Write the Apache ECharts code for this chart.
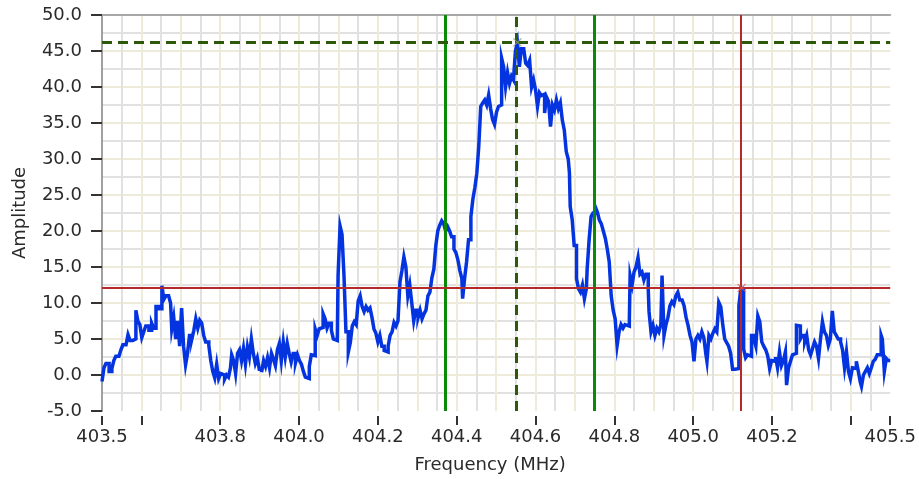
<!DOCTYPE html>
<html>
<head>
<meta charset="utf-8">
<script src="https://cdn.jsdelivr.net/npm/echarts@6/dist/echarts.min.js"></script>
<style>
html,body{margin:0;padding:0;background:#fff;}
#chart{width:919px;height:479px;}
</style>
</head>
<body>
<div id="chart"></div>
<script>
// Frequency samples (MHz)
const freqMHz = [
403.500,403.505,403.510,403.518,403.525,403.530,403.535,403.543,403.548,403.553,
403.561,403.566,403.571,403.578,403.586,403.591,403.596,403.601,403.606,403.611,
403.619,403.626,403.631,403.637,403.644,403.652,403.657,403.662,403.669,403.674,
403.677,403.682,403.687,403.692,403.697,403.702,403.707,403.712,403.717,403.722,
403.728,403.733,403.738,403.743,403.748,403.753,403.758,403.763,403.771,403.776,
403.781,403.786,403.791,403.796,403.801,403.806,403.811,403.816,403.821,403.826,
403.829,403.834,403.839,403.844,403.849,403.854,403.859,403.864,403.869,403.874,
403.879,403.884,403.889,403.894,403.899,403.905,403.910,403.915,403.920,403.925,
403.930,403.935,403.940,403.945,403.950,403.955,403.960,403.965,403.970,403.975,
403.980,403.985,403.991,403.996,404.001,404.006,404.011,404.016,404.021,404.026,
404.031,404.036,404.041,404.046,404.051,404.056,404.061,404.066,404.071,404.076,
404.082,404.087,404.092,404.097,404.099,404.104,404.109,404.114,404.119,404.125,
404.130,404.135,404.140,404.145,404.150,404.155,404.160,404.165,404.170,404.175,
404.180,404.185,404.190,404.195,404.200,404.205,404.210,404.216,404.221,404.226,
404.231,404.236,404.241,404.246,404.251,404.256,404.261,404.266,404.271,404.276,
404.281,404.286,404.291,404.296,404.302,404.307,404.312,404.317,404.322,404.327,
404.332,404.337,404.342,404.347,404.352,404.357,404.362,404.367,404.372,404.377,
404.382,404.387,404.393,404.398,404.403,404.408,404.413,404.415,404.420,404.425,
404.430,404.436,404.441,404.446,404.451,404.456,404.461,404.466,404.471,404.476,
404.481,404.486,404.491,404.496,404.501,404.506,404.511,404.514,404.519,404.524,
404.529,404.534,404.539,404.544,404.549,404.554,404.559,404.564,404.570,404.575,
404.580,404.585,404.590,404.595,404.600,404.605,404.610,404.615,404.620,404.623,
404.628,404.633,404.638,404.643,404.648,404.653,404.658,404.663,404.668,404.673,
404.678,404.683,404.686,404.688,404.693,404.698,404.704,404.709,404.714,404.719,
404.724,404.729,404.731,404.736,404.741,404.746,404.752,404.757,404.762,404.767,
404.772,404.777,404.782,404.787,404.792,404.797,404.802,404.807,404.812,404.817,
404.822,404.827,404.832,404.838,404.840,404.845,404.850,404.855,404.860,404.865,
404.870,404.875,404.880,404.886,404.888,404.893,404.898,404.903,404.908,404.913,
404.918,404.921,404.926,404.931,404.936,404.941,404.946,404.951,404.956,404.961,
404.966,404.972,404.977,404.982,404.987,404.992,404.997,405.002,405.007,405.012,
405.017,405.022,405.027,405.032,405.035,405.040,405.045,405.050,405.055,405.060,
405.065,405.070,405.075,405.080,405.085,405.090,405.095,405.100,405.106,405.111,
405.116,405.121,405.123,405.128,405.133,405.138,405.143,405.148,405.154,405.159,
405.164,405.169,405.174,405.179,405.184,405.189,405.194,405.199,405.204,405.209,
405.214,405.219,405.224,405.229,405.234,405.237,405.242,405.247,405.252,405.257,
405.262,405.267,405.272,405.277,405.283,405.288,405.293,405.298,405.303,405.308,
405.313,405.318,405.323,405.328,405.333,405.338,405.343,405.348,405.353,405.358,
405.363,405.368,405.374,405.379,405.384,405.389,405.394,405.399,405.404,405.409,
405.414,405.419,405.424,405.427,405.432,405.437,405.442,405.447,405.452,405.457,
405.462,405.467,405.472,405.477,405.480,405.485,405.490,405.495,405.500
];

// Amplitude at each frequency sample
const amplitude = [
-0.9,1.0,1.6,0.5,0.9,2.0,2.6,2.4,3.5,4.2,
4.0,5.6,4.8,5.0,9.0,7.5,7.0,5.2,6.0,6.8,
6.2,7.2,6.5,9.5,9.2,12.4,10.5,11.0,11.2,10.0,
6.4,8.0,5.0,7.5,4.0,9.3,4.0,1.4,3.0,5.5,
5.0,6.2,7.8,6.5,7.6,7.2,5.5,4.6,4.1,2.0,
0.5,-0.4,1.5,-0.5,0.2,0.0,-0.6,0.0,-0.3,1.0,
2.8,2.0,0.2,3.0,3.5,2.0,3.7,1.5,3.9,2.5,
5.0,3.0,1.6,2.4,0.8,0.4,2.0,1.2,2.4,1.0,
3.0,2.2,1.3,3.5,4.4,2.0,4.6,2.5,4.4,3.0,
1.8,3.0,1.7,2.8,2.0,1.5,0.5,-0.3,-0.5,1.2,
2.8,2.7,6.4,5.5,6.4,6.6,8.5,7.8,6.5,7.2,
6.2,5.0,4.8,5.0,13.8,20.7,19.5,13.8,6.0,3.2,
4.5,6.8,7.4,7.0,10.3,11.0,9.5,8.8,9.5,9.0,
9.3,8.0,6.4,5.8,4.6,5.5,4.0,3.4,3.2,4.0,
5.5,6.0,7.3,6.8,7.5,12.9,14.5,16.4,15.0,11.0,
12.5,10.0,7.5,9.0,8.0,9.0,7.8,8.5,9.0,11.0,
11.5,13.5,14.7,18.0,20.0,20.8,21.4,21.0,20.0,20.6,
20.0,19.2,17.5,17.0,16.0,14.5,13.4,10.6,13.4,15.7,
18.8,22.0,24.4,26.0,28.0,31.8,37.3,37.8,38.2,37.5,
38.9,37.0,35.5,34.8,36.5,37.3,37.5,44.0,42.8,40.0,
42.0,40.5,41.5,41.0,45.0,46.2,42.8,45.3,45.1,43.3,
43.0,43.7,40.0,41.0,39.6,37.3,39.2,38.8,39.0,36.4,
38.6,38.0,34.5,37.5,36.8,38.2,37.0,37.8,35.4,34.0,
31.0,30.0,28.1,23.4,21.6,18.0,13.4,12.0,11.5,12.5,
10.6,12.0,14.7,18.8,22.0,22.5,23.3,22.6,21.5,21.0,
20.0,19.0,17.5,15.7,11.0,9.0,7.8,4.1,6.0,7.0,
6.5,7.0,6.8,7.5,13.8,12.5,14.3,15.0,16.3,14.0,
14.3,13.2,14.0,12.0,8.8,6.0,6.9,5.5,6.5,6.0,
7.0,13.8,5.5,7.0,8.0,9.6,10.2,9.8,11.0,11.5,
10.4,10.6,9.6,8.0,6.9,5.5,4.6,1.9,5.0,5.5,
5.0,6.0,5.2,3.0,1.9,5.5,5.0,5.8,6.4,6.0,
10.1,9.5,7.0,5.0,4.5,4.0,3.0,0.8,1.0,0.9,
9.6,12.1,12.0,3.6,2.4,2.8,2.6,5.5,5.0,4.0,
8.2,7.4,4.6,4.0,3.5,2.7,0.9,2.0,1.9,2.5,
1.0,3.2,1.3,2.0,3.2,-1.4,1.0,1.9,2.8,3.0,
6.9,6.8,5.0,5.5,4.6,5.5,3.5,2.8,3.7,4.6,
4.0,2.3,5.0,7.4,6.0,5.5,4.1,5.0,8.9,6.0,
5.5,5.0,4.6,3.5,1.0,3.2,0.5,-0.5,1.0,0.9,
1.9,0.5,-1.0,-1.6,0.0,0.5,1.0,0.2,1.0,1.9,
2.2,2.8,2.8,5.5,5.0,0.5,2.3,2.0,2.0
];

// Cursors
const greenCursors = [404.365, 404.747];
const peakCursor = [404.554, 46.2];
const redCursor = [405.123, 12.1];

// Axis ticks / labels
const xTickValues = [403.5, 403.6, 403.8, 404.0, 404.2, 404.4, 404.6, 404.8, 405.0, 405.2, 405.4, 405.5];
const xLabelValues = [403.5, 403.8, 404.0, 404.2, 404.4, 404.6, 404.8, 405.0, 405.2, 405.5];
const xRange = [403.5, 405.5];
const yRange = [-5, 50];

const FONT = 'DejaVu Sans';
const chart = echarts.init(document.getElementById('chart'), null, {renderer: 'canvas'});

const traceData = freqMHz.map((f, i) => [f, amplitude[i]]);

const option = {
  animation: false,
  backgroundColor: '#ffffff',
  grid: {left: 102, right: 25, top: 15, bottom: 66, containLabel: false},
  xAxis: [
    {
      type: 'value', min: xRange[0], max: xRange[1], position: 'bottom', offset: 5,
      name: 'Frequency (MHz)', nameLocation: 'middle', nameGap: 40,
      nameTextStyle: {fontFamily: FONT, fontSize: 18, color: '#2a2a2a', padding: [0, 12, 0, 0]},
      axisLine: {show: false, onZero: false},
      axisTick: {show: true, length: 9, customValues: xTickValues, lineStyle: {color: '#333', width: 2}},
      axisLabel: {show: true, customValues: xLabelValues, margin: 12, fontFamily: FONT, fontSize: 18, color: '#2a2a2a',
        formatter: v => Number(v).toFixed(1)},
      splitLine: {show: false}
    },
    {
      type: 'value', min: xRange[0], max: xRange[1], interval: 0.05, position: 'top',
      axisLine: {show: true, onZero: false, lineStyle: {color: '#a8a8a8', width: 2}},
      axisTick: {show: false}, axisLabel: {show: false},
      splitLine: {show: true, showMinLine: false, showMaxLine: false,
        lineStyle: {color: ['#e1e1e1', '#efebdb'], width: 2}}
    }
  ],
  yAxis: [
    {
      type: 'value', min: yRange[0], max: yRange[1], interval: 5,
      name: 'Amplitude', nameLocation: 'middle', nameGap: 73, nameRotate: 90,
      nameTextStyle: {fontFamily: FONT, fontSize: 18, color: '#2a2a2a'},
      axisLine: {show: true, onZero: false, lineStyle: {color: '#a0a0a0', width: 2}},
      axisTick: {show: true, length: 11, lineStyle: {color: '#333', width: 2}},
      axisLabel: {margin: 20, fontFamily: FONT, fontSize: 18, color: '#2a2a2a',
        formatter: v => Number(v).toFixed(1)},
      splitLine: {show: false}
    },
    {
      type: 'value', min: yRange[0], max: yRange[1], interval: 2.5, position: 'right',
      axisLine: {show: false}, axisTick: {show: false}, axisLabel: {show: false},
      splitLine: {show: true, showMinLine: false, showMaxLine: false,
        lineStyle: {color: ['#e1e1e1', '#efebdb'], width: 2}}
    }
  ],
  series: [
    {
      type: 'line', xAxisIndex: 0, yAxisIndex: 0, data: traceData,
      symbol: 'none', showSymbol: false, z: 3, step: 'end',
      lineStyle: {color: '#0433e0', width: 3.5, join: 'miter'},
      markLine: {
        silent: true, symbol: 'none', label: {show: false}, animation: false,
        data: [
          {xAxis: greenCursors[0], lineStyle: {color: '#098a09', width: 3, type: 'solid'}},
          {xAxis: greenCursors[1], lineStyle: {color: '#098a09', width: 3, type: 'solid'}},
          {xAxis: peakCursor[0], lineStyle: {color: '#2c5a0a', width: 3, type: [10, 6]}},
          {yAxis: peakCursor[1], lineStyle: {color: '#2c5a0a', width: 3, type: [10, 6]}},
          {xAxis: redCursor[0], lineStyle: {color: '#b42a2a', width: 2, type: 'solid'}},
          {yAxis: redCursor[1], lineStyle: {color: '#b42a2a', width: 2, type: 'solid'}}
        ]
      }
    },
    {
      type: 'scatter', xAxisIndex: 0, yAxisIndex: 0, z: 6,
      symbol: 'path://M0,0L10,10M10,0L0,10', symbolSize: 8,
      data: [
        {value: peakCursor, itemStyle: {color: 'none', borderColor: '#8a9a80', borderWidth: 1.2}},
        {value: redCursor, itemStyle: {color: 'none', borderColor: '#d06060', borderWidth: 1.2}}
      ]
    }
  ]
};
chart.setOption(option);
</script>
</body>
</html>
